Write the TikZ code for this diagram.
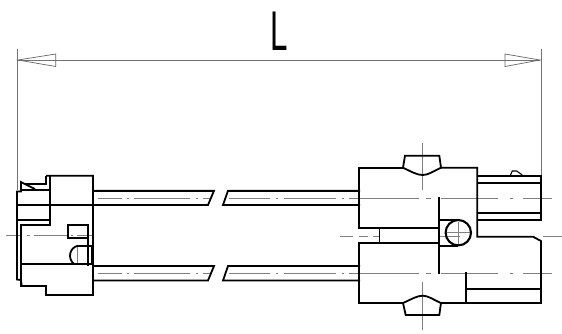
\documentclass[tikz,border=0pt]{standalone}
\usepackage{fontspec}
\setmainfont{Liberation Sans}
\tikzset{
 outline/.style={black,line width=1.8pt,line join=miter},
 heavy/.style={black,line width=2.4pt},
 thinpart/.style={black,line width=1.1pt},
 axis/.style={black!50,line width=0.8pt},
 dim/.style={black!55,line width=0.8pt},
 dimtip/.style={black!60,line width=0.7pt}
}
\begin{document}
\begin{tikzpicture}[x=1pt,y=-1pt]
\useasboundingbox (0,0) rectangle (562,333);
\fill[white] (0,0) rectangle (562,333);
% dimension
\draw[dim] (17,49) -- (17,190);
\draw[dim] (541,49) -- (541,176);
\draw[dim] (18,60) -- (540,60);
\draw[dimtip] (18,60) -- (55.7,54) -- (55.7,66.5) -- cycle;
\draw[dimtip] (540,60) -- (505,54) -- (505,66.5) -- cycle;
\node[inner sep=0pt] (len) at (279.5,31) {\scalebox{0.56}[1]{\fontsize{56}{56}\selectfont L}};
% axis lines
\foreach \yy in {198,273}{
 \draw[axis] (98,\yy) -- (122,\yy) (127,\yy) -- (129,\yy) (134,\yy) -- (190,\yy) (196,\yy) -- (198,\yy) (203,\yy) -- (210,\yy);
 \draw[axis] (229,\yy) -- (270,\yy) (276,\yy) -- (278,\yy) (284,\yy) -- (336,\yy) (342,\yy) -- (344,\yy) (349,\yy) -- (419,\yy) (426,\yy) -- (431,\yy) (441,\yy) -- (498,\yy) (510,\yy) -- (513,\yy) (523,\yy) -- (552,\yy);
}
\draw[axis] (6,235.7) -- (20,235.7) (27,235.7) -- (30,235.7) (34,235.7) -- (67,235.7) (71,235.7) -- (73,235.7) (77,235.7) -- (93,235.7);
\draw[axis] (340,236) -- (353,236) (359,236) -- (368,236) (373,236) -- (380,236) (438,236) -- (460,236) (543,236) -- (562,236);
\draw[axis] (422.7,143) -- (422.7,190) (422.7,282) -- (422.7,330);
\draw[axis] (458.3,222) -- (458.3,245) (447,232.7) -- (470,232.7);
\draw[axis] (77,247) -- (77,264);
% cables
\foreach \ya/\yb in {190.7/205,266/280.5}{
 \draw[outline] (93,\ya) -- (214,\ya) -- (208,\yb) -- (93,\yb);
 \draw[outline] (360,\ya) -- (228,\ya) -- (223,\yb) -- (360,\yb);
}
\draw[heavy] (93,190.7) -- (214,190.7) (228,190.7) -- (360,190.7) (93,266) -- (214,266) (228,266) -- (360,266);
% left connector
\draw[outline] (46,175.7) -- (93,175.7) -- (93,295) -- (46,295) -- (46,286) -- (21.7,286) -- (21,280) -- (17,279.5) -- (17,191.5) -- (21,191.5) -- (21,182) -- (35,189);
\draw[outline] (46,175.7) -- (46,184) -- (25,184);
\draw[outline] (50,175.7) -- (50,225) -- (21,225) -- (21,287);
\draw[outline] (20,190) -- (50,190);
\draw[outline] (17,205) -- (93,205);
\draw[outline] (17,220) -- (50,220);
\draw[outline] (68,225) rectangle (88,238);
\draw[outline] (88,225) -- (88,266);
\draw[outline] (21,264.3) -- (93,264.3);
\draw[outline] (77,246) -- (92,246) -- (92,265);
\draw[outline] (77,246) .. controls (70,248) and (67,258) .. (74,264);
% right connector body
\draw[outline] (403,167.7) -- (359.3,167.7) -- (359.3,227.7) -- (439,227.7);
\draw[outline] (441,167.7) -- (477.3,167.7) -- (477.3,236.7) -- (533,236.7) -- (541,241) -- (541,303) -- (441,303);
\draw[outline] (403,303) -- (359.3,303) -- (359.3,243) -- (379.5,243) -- (379.5,227.7);
\draw[outline] (379.5,242.7) -- (439,242.7);
\draw[outline] (439,197) -- (439,273.5);
\draw[outline] (439,220) -- (458.3,220) (439,246) -- (458.3,246);
\draw[outline,line width=2.1pt] (458.3,232.7) circle (12.7);
\draw[outline] (466,272) -- (466,303);
\draw[outline] (466,288.7) -- (541,288.7);
% bumps
\draw[outline] (403,167.7) -- (405,155.7) -- (439.3,155.7) -- (441,167.7) .. controls (432,172) and (428,175) .. (422.7,175) .. controls (417,175) and (412,172) .. (403,167.7);
\draw[outline] (403,303) -- (405.7,315) -- (439.3,315) -- (441,303) .. controls (432,299) and (428,295.7) .. (422.7,295.7) .. controls (417,295.7) and (412,299) .. (403,303);
% right plug
\draw[outline] (477.3,175.7) -- (541,175.7) -- (541,220) -- (477.3,220);
\draw[outline] (477.3,183.3) -- (541,183.3) (477.3,212.7) -- (541,212.7);
\draw[thinpart] (510.5,175) -- (512.3,171) -- (516.7,171) -- (522.3,175);
\end{tikzpicture}
\end{document}
